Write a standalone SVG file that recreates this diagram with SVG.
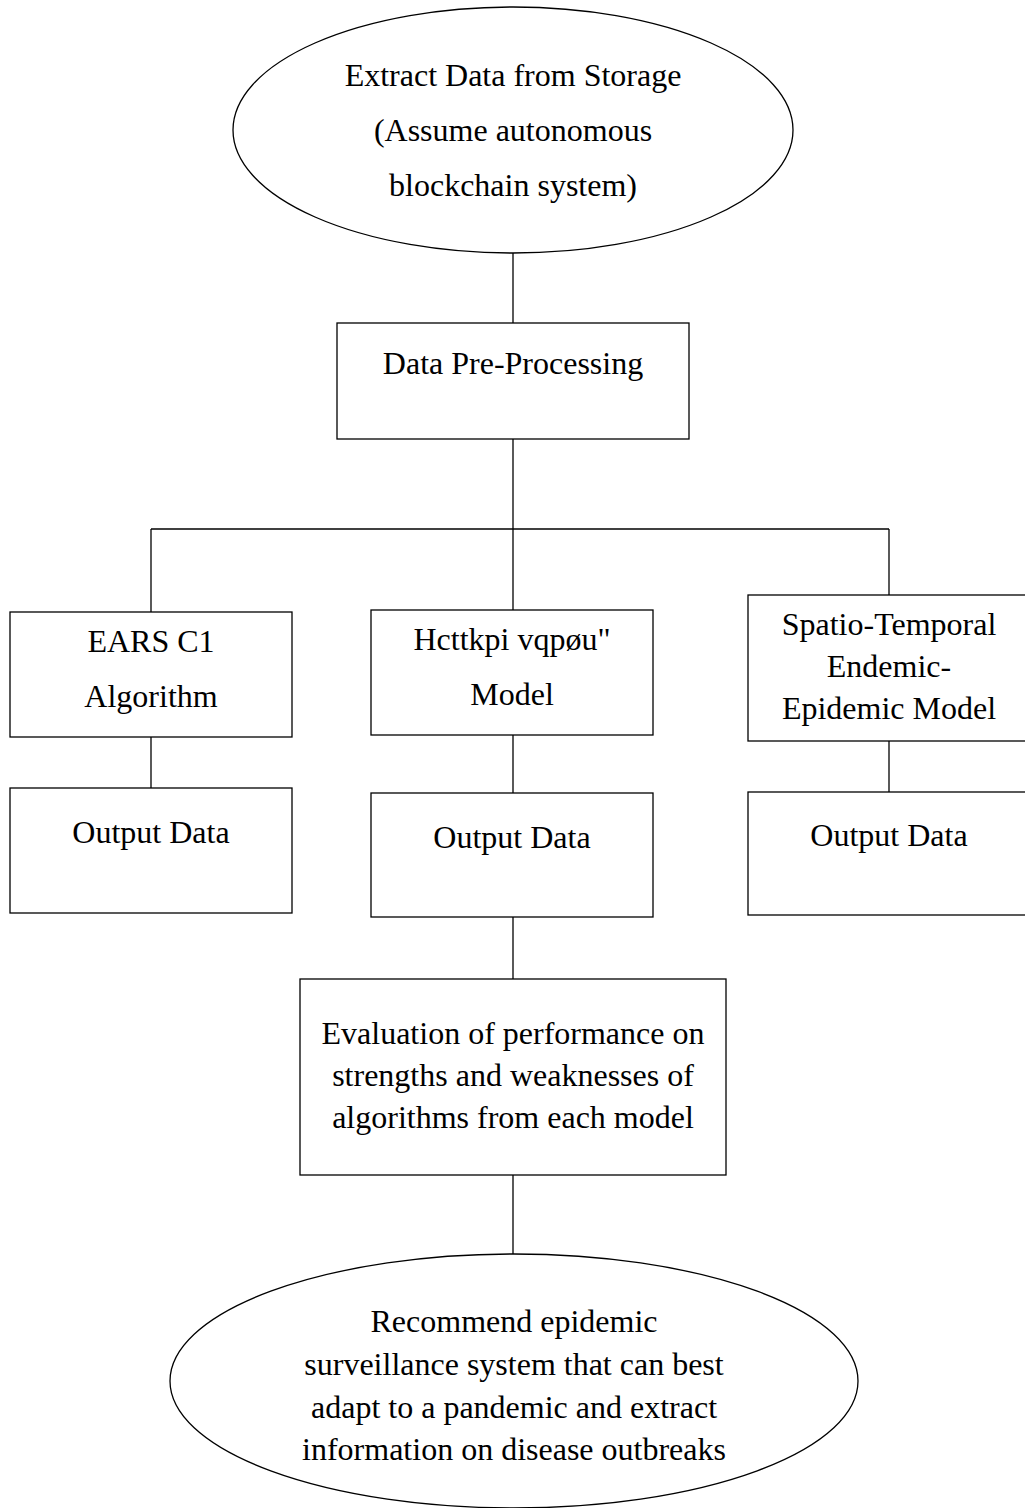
<svg xmlns="http://www.w3.org/2000/svg" width="1025" height="1508" viewBox="0 0 1025 1508">
<style>
.s{fill:#fff;stroke:#000;stroke-width:1.3}
.c{stroke:#000;stroke-width:1.3;fill:none}
text{font-family:'Liberation Serif','Times New Roman',Times,serif;font-size:32px;fill:#000;text-anchor:middle}
</style>
<rect width="1025" height="1508" fill="#fff"/>
<g id="connectors">
<line class="c" x1="513" y1="253" x2="513" y2="323"/>
<line class="c" x1="513" y1="439" x2="513" y2="610"/>
<line class="c" x1="151" y1="529" x2="889" y2="529"/>
<line class="c" x1="151" y1="529" x2="151" y2="612"/>
<line class="c" x1="889" y1="529" x2="889" y2="595"/>
<line class="c" x1="151" y1="737" x2="151" y2="788"/>
<line class="c" x1="513" y1="735" x2="513" y2="793"/>
<line class="c" x1="889" y1="741" x2="889" y2="792"/>
<line class="c" x1="513" y1="917" x2="513" y2="979"/>
<line class="c" x1="513" y1="1175" x2="513" y2="1254"/>
</g>
<g id="extract">
<ellipse class="s" cx="513" cy="130" rx="280" ry="123"/>
<text x="513" y="86">Extract Data from Storage</text>
<text x="513" y="141">(Assume autonomous</text>
<text x="513" y="196">blockchain system)</text>
</g>
<g id="preprocess">
<rect class="s" x="337" y="323" width="352" height="116"/>
<text x="513" y="374">Data Pre-Processing</text>
</g>
<g id="ears">
<rect class="s" x="10" y="612" width="282" height="125"/>
<text x="151" y="652">EARS C1</text>
<text x="151" y="707">Algorithm</text>
</g>
<g id="farrington">
<rect class="s" x="371" y="610" width="282" height="125"/>
<text x="512" y="650">Hcttkpi vqpøu&quot;</text>
<text x="512" y="705">Model</text>
</g>
<g id="spatio">
<rect class="s" x="748" y="595" width="280" height="146"/>
<text x="889" y="635">Spatio-Temporal</text>
<text x="889" y="677">Endemic-</text>
<text x="889" y="719">Epidemic Model</text>
</g>
<g id="out1">
<rect class="s" x="10" y="788" width="282" height="125"/>
<text x="151" y="843">Output Data</text>
</g>
<g id="out2">
<rect class="s" x="371" y="793" width="282" height="124"/>
<text x="512" y="848">Output Data</text>
</g>
<g id="out3">
<rect class="s" x="748" y="792" width="280" height="123"/>
<text x="889" y="846">Output Data</text>
</g>
<g id="evaluation">
<rect class="s" x="300" y="979" width="426" height="196"/>
<text x="513" y="1044">Evaluation of performance on</text>
<text x="513" y="1086">strengths and weaknesses of</text>
<text x="513" y="1128">algorithms from each model</text>
</g>
<g id="recommend">
<ellipse class="s" cx="514" cy="1381" rx="344" ry="127"/>
<text x="514" y="1332">Recommend epidemic</text>
<text x="514" y="1375">surveillance system that can best</text>
<text x="514" y="1418">adapt to a pandemic and extract</text>
<text x="514" y="1460">information on disease outbreaks</text>
</g>
</svg>
